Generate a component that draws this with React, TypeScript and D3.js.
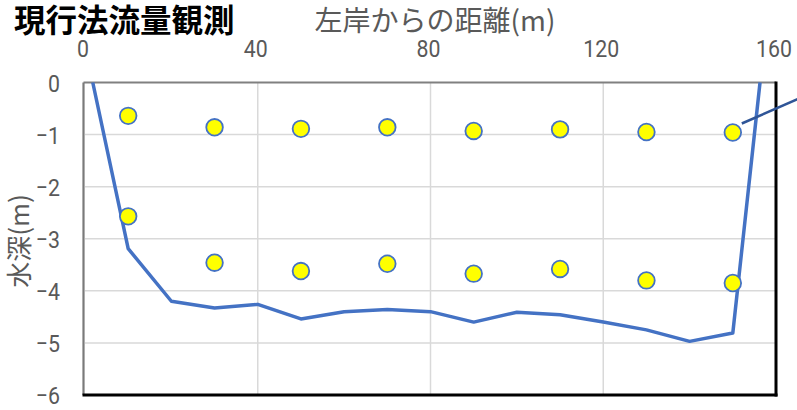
import React from "react";
import * as d3 from "d3";

const bedX = [1.8, 10, 20, 30, 40, 50, 60, 70, 80, 90, 100, 110, 120, 130, 140, 150, 156.3];
const bedY = [0, -3.19, -4.2, -4.33, -4.26, -4.54, -4.4, -4.36, -4.4, -4.6, -4.41, -4.46, -4.6, -4.75, -4.97, -4.81, 0];

const pointX = [10, 30, 50, 70, 90, 110, 130, 150];
const upperY = [-0.64, -0.86, -0.89, -0.86, -0.93, -0.9, -0.95, -0.96];
const lowerY = [-2.57, -3.46, -3.62, -3.48, -3.67, -3.58, -3.8, -3.85];

const xTicks = [0, 40, 80, 120, 160];
const yTicks = [0, -1, -2, -3, -4, -5, -6];

const title = "現行法流量観測";
const xTitle = "左岸からの距離(m)";
const yTitle = "水深(m)";

const W = 797;
const H = 410;
const L = 85, R = 776, T = 82.5, B = 395;

export default function App() {
  const x = d3.scaleLinear().domain([0, 160]).range([L, R]);
  const y = d3.scaleLinear().domain([0, -6]).range([T, B]);
  const line = d3.line<number>().x((_, i) => x(bedX[i])).y((d) => y(d));
  const pts = [
    ...pointX.map((px, i) => ({ px, py: upperY[i] })),
    ...pointX.map((px, i) => ({ px, py: lowerY[i] })),
  ];
  const numFont = "Roboto, 'Noto Sans', sans-serif";
  const cjkFont = "'Noto Sans CJK JP', sans-serif";
  const lx = x(pointX[7]) + 9;
  const ly = y(upperY[7]) - 9;
  return (
    <svg width={W} height={H} style={{ position: "absolute", left: 0, top: 0, background: "#fff" }}>
      <rect x={0} y={0} width={W} height={H} fill="#fff" />
      {xTicks.slice(1, -1).map((t) => (
        <line key={"gx" + t} x1={x(t)} x2={x(t)} y1={T} y2={B} stroke="#d9d9d9" strokeWidth={1.5} />
      ))}
      {yTicks.slice(1, -1).map((t) => (
        <line key={"gy" + t} x1={L} x2={R} y1={y(t)} y2={y(t)} stroke="#d9d9d9" strokeWidth={1.5} />
      ))}
      <line x1={L - 1.5} x2={R} y1={T} y2={T} stroke="#808080" strokeWidth={2} />
      <line x1={L - 1.5} x2={L - 1.5} y1={T} y2={B} stroke="#7a7a7a" strokeWidth={2.2} />
      <line x1={R} x2={R} y1={T - 1} y2={B + 1.5} stroke="#000" strokeWidth={3} />
      <line x1={L - 2.5} x2={R + 1.5} y1={B} y2={B} stroke="#000" strokeWidth={3} />
      <path d={line(bedY) || ""} fill="none" stroke="#4472C4" strokeWidth={3.5} strokeLinejoin="round" />
      {pts.map((p, i) => (
        <circle key={i} cx={x(p.px)} cy={y(p.py)} r={8.3} fill="#FFFF00" stroke="#4472C4" strokeWidth={1.8} />
      ))}
      <line x1={lx} y1={ly} x2={lx + 80} y2={ly - 35} stroke="#2F5597" strokeWidth={2.5} />
      {xTicks.map((t) => (
        <text key={"xt" + t} transform={`translate(${x(t) - 2}, 57) scale(0.87, 1)`} textAnchor="middle" fontFamily={numFont} fontSize={24.5} fill="#595959">
          {t}
        </text>
      ))}
      {yTicks.map((t) => (
        <text key={"yt" + t} transform={`translate(60, ${y(t) + 9}) scale(0.87, 1)`} textAnchor="end" fontFamily={numFont} fontSize={24.5} fill="#595959">
          {t === 0 ? "0" : "−" + Math.abs(t)}
        </text>
      ))}
      <text x={14} y={32} fontFamily={cjkFont} fontWeight="bold" fontSize={31.5} fill="#000">
        {title}
      </text>
      <text x={435} y={31} textAnchor="middle" fontFamily={cjkFont} fontSize={28} fill="#595959">
        {xTitle}
      </text>
      <text
        transform={`translate(29, 241) rotate(-90)`}
        textAnchor="middle"
        fontFamily={cjkFont}
        fontSize={26}
        fill="#595959"
      >
        {yTitle}
      </text>
    </svg>
  );
}
